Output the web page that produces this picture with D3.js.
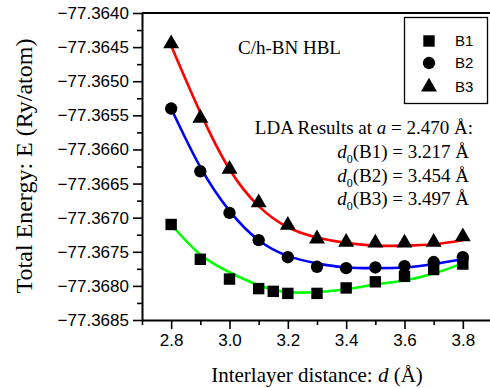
<!DOCTYPE html>
<html lang="en">
<head>
<meta charset="UTF-8">
<title>C/h-BN HBL energy</title>
<script src="https://d3js.org/d3.v7.min.js"></script>
<style>
  body { margin: 0; background: #fff; }
  svg { display: block; }
  .serif { font-family: "Liberation Serif", "Times New Roman", serif; }
  .sans { font-family: "Liberation Sans", Arial, sans-serif; }
</style>
</head>
<body>
<svg id="chart" width="490" height="388"></svg>
<script>
// interlayer distance (Å)
var dist = [2.8, 2.9, 3.0, 3.1, 3.2, 3.3, 3.4, 3.5, 3.6, 3.7, 3.8];
var distB1 = [2.8, 2.9, 3.0, 3.1, 3.15, 3.2, 3.3, 3.4, 3.5, 3.6, 3.7, 3.8];

// computed energies (Ry/atom)
var b1 = [-77.36710, -77.36761, -77.36790, -77.36804, -77.36808, -77.36811, -77.36811, -77.36803, -77.36794, -77.36786, -77.36776, -77.36768];
var b2 = [-77.36540, -77.36632, -77.36693, -77.36733, -77.36758, -77.36772, -77.36774, -77.36773, -77.36771, -77.36765, -77.36758];
var b3 = [-77.36445, -77.36554, -77.36629, -77.36678, -77.36711, -77.36731, -77.36736, -77.36737, -77.36737, -77.36736, -77.36728];

// fitted curves
var fitB1 = [-77.36710, -77.36754, -77.36780, -77.36799, -77.36809, -77.36809, -77.36805, -77.36798, -77.36792, -77.36782, -77.36767];
var fitB2 = [-77.36540, -77.36626, -77.36690, -77.36733, -77.36756, -77.36767, -77.36773, -77.36774, -77.36773, -77.36768, -77.36761];
var fitB3 = [-77.36448, -77.36546, -77.36629, -77.36683, -77.36714, -77.36729, -77.36737, -77.36741, -77.36741, -77.36739, -77.36733];

var xTicks = [2.8, 3.0, 3.2, 3.4, 3.6, 3.8];
var yTicks = [-77.3640, -77.3645, -77.3650, -77.3655, -77.3660, -77.3665, -77.3670, -77.3675, -77.3680, -77.3685];

var svg = d3.select("#chart");
var pLeft = 142, pRight = 492, pTop = 13, pBottom = 320;

var x = d3.scaleLinear().domain([2.7, 3.9]).range([pLeft, pRight]);
var y = d3.scaleLinear().domain([-77.3685, -77.3640]).range([pBottom, pTop]);

// minor ticks
var xMinor = [2.7, 2.9, 3.1, 3.3, 3.5, 3.7];
var yMinor = d3.range(0, 9).map(function(i) { return -77.36425 - i * 0.0005; });

svg.append("g")
   .attr("transform", "translate(0," + pBottom + ")")
   .call(d3.axisBottom(x).tickValues(xMinor).tickSize(5).tickFormat(""))
   .call(function(g) { g.select(".domain").remove(); })
   .selectAll("line").attr("stroke-width", 1.6);

var xAxis = svg.append("g")
   .attr("class", "sans")
   .attr("transform", "translate(0," + pBottom + ")")
   .call(d3.axisBottom(x).tickValues(xTicks).tickSize(9).tickSizeOuter(0).tickPadding(5)
         .tickFormat(d3.format(".1f")));
xAxis.select(".domain").attr("stroke-width", 2);
xAxis.selectAll("line").attr("stroke-width", 1.6);
xAxis.selectAll("text").attr("font-size", "17px").attr("fill", "#000");

svg.append("g")
   .attr("transform", "translate(" + pLeft + ",0)")
   .call(d3.axisLeft(y).tickValues(yMinor).tickSize(5).tickFormat(""))
   .call(function(g) { g.select(".domain").remove(); })
   .selectAll("line").attr("stroke-width", 1.6);

var yAxis = svg.append("g")
   .attr("class", "sans")
   .attr("transform", "translate(" + pLeft + ",0)")
   .call(d3.axisLeft(y).tickValues(yTicks).tickSize(9).tickSizeOuter(0).tickPadding(4)
         .tickFormat(d3.format(".4f")));
yAxis.select(".domain").attr("stroke-width", 2);
yAxis.selectAll("line").attr("stroke-width", 1.6);
yAxis.selectAll("text").attr("font-size", "17px").attr("fill", "#000");

// top frame line
svg.append("line")
   .attr("x1", pLeft).attr("x2", 490)
   .attr("y1", pTop).attr("y2", pTop)
   .attr("stroke", "#000").attr("stroke-width", 2);

// fitted curves
var line = d3.line()
   .x(function(d) { return x(d[0]); })
   .y(function(d) { return y(d[1]); })
   .curve(d3.curveNatural);

var fits = [
  { vals: fitB1, color: "#00ff00" },
  { vals: fitB2, color: "#0000ff" },
  { vals: fitB3, color: "#ff0000" }
];
fits.forEach(function(f) {
  svg.append("path")
     .datum(d3.zip(dist, f.vals))
     .attr("d", line)
     .attr("fill", "none")
     .attr("stroke", f.color)
     .attr("stroke-width", 2.6);
});

// data markers
var series = [
  { xs: distB1, vals: b1, sym: d3.symbolSquare, size: 130 },
  { xs: dist, vals: b2, sym: d3.symbolCircle, size: 120 },
  { xs: dist, vals: b3, sym: d3.symbolTriangle, size: 110 }
];
series.forEach(function(s) {
  svg.append("g").selectAll("path")
     .data(d3.zip(s.xs, s.vals))
     .enter().append("path")
     .attr("transform", function(d) { return "translate(" + x(d[0]) + "," + y(d[1]) + ")"; })
     .attr("d", d3.symbol().type(s.sym).size(s.size))
     .attr("fill", "#000");
});

// legend
var legendNames = ["B1", "B2", "B3"];
var legendSyms = [d3.symbolSquare, d3.symbolCircle, d3.symbolTriangle];
var legendSizes = [130, 120, 110];
var legendY = [41, 63, 87];
svg.append("rect")
   .attr("x", 404.5).attr("y", 17.5).attr("width", 83).attr("height", 86)
   .attr("fill", "#fff").attr("stroke", "#000").attr("stroke-width", 1.3);
legendNames.forEach(function(n, i) {
  svg.append("path")
     .attr("transform", "translate(429," + legendY[i] + ")")
     .attr("d", d3.symbol().type(legendSyms[i]).size(legendSizes[i]))
     .attr("fill", "#000");
  svg.append("text")
     .attr("class", "sans")
     .attr("x", 455).attr("y", legendY[i] + 5)
     .attr("font-size", "15px")
     .text(n);
});

// title and annotations
svg.append("text")
   .attr("class", "serif")
   .attr("x", 238).attr("y", 54)
   .attr("font-size", "19px")
   .text("C/h-BN HBL");

var ann = svg.append("text")
   .attr("class", "serif")
   .attr("font-size", "19px")
   .attr("text-anchor", "end");

var t0 = ann.append("tspan").attr("x", 473).attr("y", 134);
t0.append("tspan").text("LDA Results at ");
t0.append("tspan").attr("font-style", "italic").text("a");
t0.append("tspan").text(" = 2.470 Å:");

var d0Lines = ["B1", "B2", "B3"];
var d0Vals = ["3.217", "3.454", "3.497"];
d0Lines.forEach(function(b, i) {
  var t = svg.append("text")
     .attr("class", "serif")
     .attr("font-size", "19px")
     .attr("text-anchor", "end")
     .attr("x", 469).attr("y", 158 + i * 23.5);
  t.append("tspan").attr("font-style", "italic").text("d");
  t.append("tspan").attr("font-size", "12px").attr("dy", 5).text("0");
  t.append("tspan").attr("dy", -5).text("(" + b + ") = " + d0Vals[i] + " Å");
});

// axis titles
var xt = svg.append("text")
   .attr("class", "serif")
   .attr("x", 317).attr("y", 382)
   .attr("font-size", "21px")
   .attr("text-anchor", "middle");
xt.append("tspan").text("Interlayer distance: ");
xt.append("tspan").attr("font-style", "italic").text("d");
xt.append("tspan").text(" (Å)");

svg.append("text")
   .attr("class", "serif")
   .attr("transform", "translate(32,166) rotate(-90)")
   .attr("font-size", "24px")
   .attr("text-anchor", "middle")
   .text("Total Energy: E (Ry/atom)");
</script>
</body>
</html>
